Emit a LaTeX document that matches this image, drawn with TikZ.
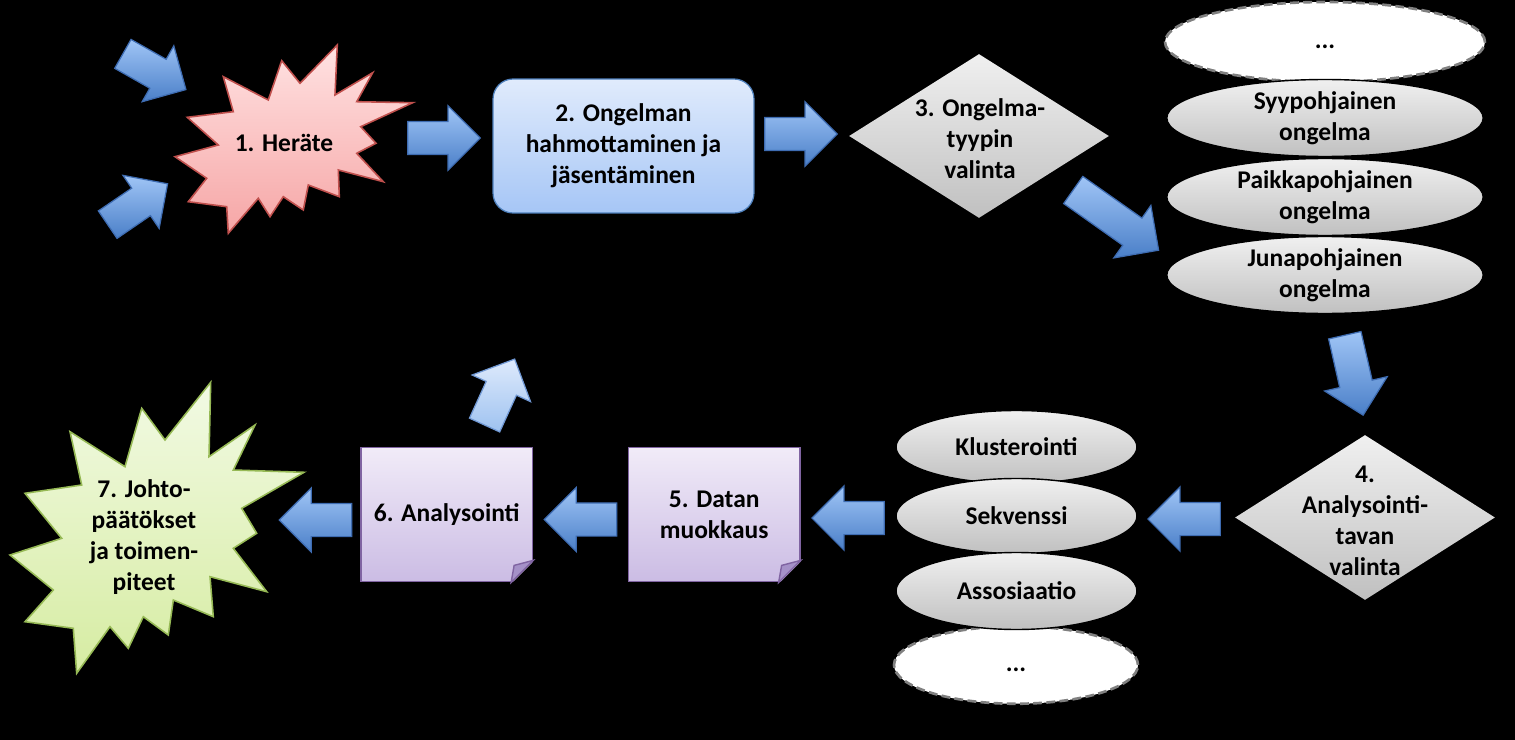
\documentclass[tikz,border=0pt]{standalone}
\usepackage{fontspec}
\setmainfont{Carlito}
\usetikzlibrary{shapes.geometric,shapes.arrows,calc}

\definecolor{arrowlight}{RGB}{160,197,246}
\definecolor{arrowdark}{RGB}{74,127,200}
\definecolor{arrowedge}{RGB}{62,108,178}
\definecolor{palelight}{RGB}{222,234,252}
\definecolor{paledark}{RGB}{158,194,240}
\definecolor{paleedge}{RGB}{112,152,212}
\definecolor{pinktop}{RGB}{255,226,226}
\definecolor{pinkbot}{RGB}{246,166,166}
\definecolor{pinkedge}{RGB}{192,80,77}
\definecolor{greentop}{RGB}{242,250,228}
\definecolor{greenbot}{RGB}{214,236,162}
\definecolor{greenedge}{RGB}{150,185,85}
\definecolor{bluetop}{RGB}{224,235,252}
\definecolor{bluebot}{RGB}{166,198,246}
\definecolor{blueedge}{RGB}{79,129,189}
\definecolor{graytop}{RGB}{240,240,240}
\definecolor{graybot}{RGB}{192,192,192}
\definecolor{lilactop}{RGB}{241,235,248}
\definecolor{lilacbot}{RGB}{203,188,228}
\definecolor{lilacedge}{RGB}{128,100,162}
\definecolor{lilacfold}{RGB}{165,145,200}

\tikzset{
  txt/.style={font=\fontsize{14.5}{17.6}\selectfont\bfseries, align=center, inner sep=0pt},
  barrow/.style={single arrow, draw=arrowedge, line width=0.7pt, anchor=tip,
    inner xsep=0pt, inner ysep=0.32cm, single arrow head extend=0.31cm,
    minimum height=1.45cm, top color=arrowlight, bottom color=arrowdark},
  lightarrow/.style={draw=paleedge, top color=palelight, bottom color=paledark},
  pinkstar/.style={draw=pinkedge, line width=0.9pt, top color=pinktop, bottom color=pinkbot},
  greenstar/.style={draw=greenedge, line width=0.9pt, top color=greentop, bottom color=greenbot},
  bluebox/.style={txt, rectangle, rounded corners=0.4cm, draw=blueedge, line width=0.7pt,
    top color=bluetop, bottom color=bluebot, minimum width=5.22cm, minimum height=2.68cm},
  graydia/.style={diamond, inner sep=0pt, top color=graytop, bottom color=graybot},
  grayell/.style={txt, ellipse, draw=black, line width=0.8pt, top color=graytop, bottom color=graybot},
  dashell/.style={txt, ellipse, fill=white, draw=black!50, line width=1.5pt, dash pattern=on 5pt off 2.5pt},
  notebox/.style={txt, rectangle, draw=lilacedge, line width=0.8pt, top color=lilactop,
    bottom color=lilacbot, minimum width=3.43cm, minimum height=2.68cm},
  fold/.style={draw=lilacedge, line width=0.8pt, fill=lilacfold}
}

\begin{document}
\begin{tikzpicture}[x=0.02cm, y=-0.02cm]
  \useasboundingbox (0,0) rectangle (1515,740);
  \fill[black] (0,0) rectangle (1515,740);

  % ---------- 1. trigger ----------
  \filldraw[pinkstar] (337.3,45) -- (335,95) -- (372.7,72.7) -- (356.7,101.7) -- (412.7,102.7)
    -- (360.7,126.7) -- (376,143.3) -- (356.7,153.3) -- (383.3,181.7) -- (338.3,170)
    -- (339.3,196.7) -- (308.3,185) -- (303.3,210) -- (283.3,196.7) -- (270,216.7)
    -- (258.3,198.3) -- (228.3,233.3) -- (226.7,206.7) -- (188.3,201.7) -- (206.7,178.3)
    -- (175,156.7) -- (218.3,145) -- (187.3,117.3) -- (233.3,111.7) -- (223.3,76.7)
    -- (268.3,100) -- (281.7,60.7) -- (300,83.3) -- cycle;
  \node[txt] (n1) at (284,143) {1. Heräte};

  % ---------- 2. problem framing ----------
  \node[bluebox] (n2) at (623.5,146) {2. Ongelman\\hahmottaminen ja\\jäsentäminen};

  % ---------- 3. problem type ----------
  \node[graydia, minimum width=5.2cm, minimum height=3.28cm] (d3) at (979,136) {};
  \node[txt] (n3) at (980,139) {3. Ongelma-\\tyypin\\valinta};

  % problem types (stacked)
  \node[dashell, minimum width=6.4cm, minimum height=1.6cm] (e0) at (1325,42) {\strut...};
  \node[grayell, minimum width=6.33cm, minimum height=1.54cm] (e1) at (1325,118) {Syypohjainen\\ongelma};
  \node[grayell, minimum width=6.33cm, minimum height=1.54cm] (e2) at (1325,197) {Paikkapohjainen\\ongelma};
  \node[grayell, minimum width=6.33cm, minimum height=1.54cm] (e3) at (1325,275) {Junapohjainen\\ongelma};

  % ---------- 4. analysis method ----------
  \node[graydia, minimum width=5.2cm, minimum height=3.3cm] (d4) at (1365,517.5) {};
  \node[txt] (n4) at (1365,521) {4.\\Analysointi-\\tavan\\valinta};

  % methods (stacked)
  \node[dashell, minimum width=4.88cm, minimum height=1.55cm] (f4) at (1016,665) {\strut...};
  \node[grayell, minimum width=4.82cm, minimum height=1.46cm] (f1) at (1016.5,447) {Klusterointi};
  \node[grayell, minimum width=4.82cm, minimum height=1.5cm] (f2) at (1016.5,516) {Sekvenssi};
  \node[grayell, minimum width=4.82cm, minimum height=1.54cm] (f3) at (1016.5,591) {Assosiaatio};

  % ---------- 5. and 6. ----------
  \node[notebox] (n5) at (714.2,514.7) {5. Datan\\muokkaus};
  \node[notebox] (n6) at (446.7,514.7) {6. Analysointi};
  \foreach \b in {n5,n6} {
    \fill[black] ($(\b.south east)+(1.5,-22)$) -- ($(\b.south east)+(-22,1.5)$) -- ($(\b.south east)+(1.5,1.5)$) -- cycle;
    \filldraw[fold] ($(\b.south east)+(0,-22)$) -- ($(\b.south east)+(-22,0)$) -- ($(\b.south east)+(-19,-17)$) -- cycle;
  }

  % ---------- 7. conclusions ----------
  \filldraw[greenstar] (210.7,382.3) -- (209,456.7) -- (255,425) -- (233.3,470) -- (304,472.3)
    -- (241.7,508.3) -- (256.7,533.3) -- (233.3,548.3) -- (266.7,591.7) -- (210,576.7)
    -- (213.3,616.7) -- (173.3,600) -- (168.3,635) -- (143.3,616.7) -- (128.3,648.3)
    -- (110,626.7) -- (76.7,673.3) -- (73.3,628.3) -- (25,621.7) -- (53.3,590)
    -- (10,555) -- (61.7,538.3) -- (25,493.3) -- (81.7,485) -- (70,431.7)
    -- (125,466.7) -- (141.7,408.3) -- (165,440) -- cycle;
  \node[txt] (n7) at (144,537) {7. Johto-\\päätökset\\ja toimen-\\piteet};

  % ---------- block arrows (placed by their tips) ----------
  \node[barrow, rotate=-29.5] (a1) at (186.7,90) {};
  \node[barrow, rotate=34.3] (a2) at (168.3,183.3) {};
  \node[barrow] (a3) at (481,138) {};
  \node[barrow] (a4) at (838,134) {};
  \node[barrow, rotate=-35.2, minimum height=2.09cm] (a5) at (1159.3,250.7) {};
  \node[barrow, rotate=-77.1, minimum height=1.64cm] (a6) at (1363.3,416) {};
  \node[barrow, rotate=180] (a7) at (1147,519) {};
  \node[barrow, rotate=180] (a8) at (811,518) {};
  \node[barrow, rotate=180] (a9) at (543.3,519.5) {};
  \node[barrow, rotate=180] (a10) at (278.3,520) {};
  \node[barrow, lightarrow, rotate=65.5] (a11) at (515,358.3) {};
\end{tikzpicture}
\end{document}
